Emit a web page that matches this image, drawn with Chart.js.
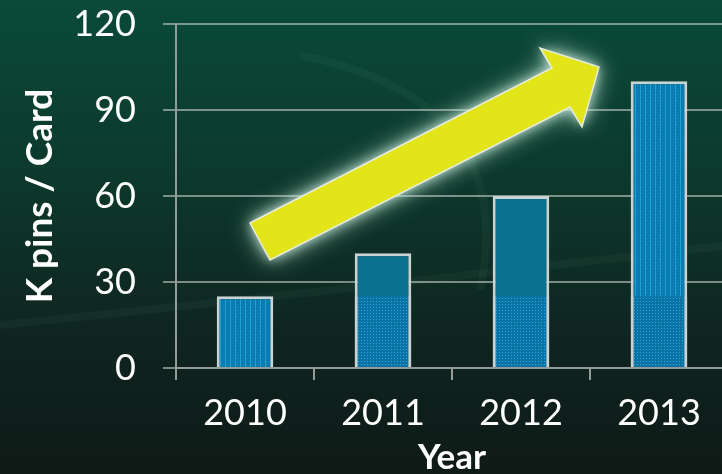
<!DOCTYPE html>
<html><head><meta charset="utf-8">
<script src="https://cdn.jsdelivr.net/npm/chart.js@4/dist/chart.umd.min.js"></script>
<style>
html,body{margin:0;padding:0;overflow:hidden;width:722px;height:474px;}
body{background:linear-gradient(180deg,#0a4a38 0%,#0c3a2d 35%,#0f2520 70%,#0f1a17 100%);}
#wrap{position:absolute;left:0;top:0;width:730px;height:474px;}
</style></head>
<body>
<div id="wrap"><canvas id="c" width="730" height="474"></canvas></div>
<script>
const categories = ["2010","2011","2012","2013"];
const kPinsPerCard = [25, 40, 60, 100];
const level2010 = [null, 25, 25, 25];
const yTicks = [0, 30, 60, 90, 120];

const ctx0 = document.getElementById('c').getContext('2d');
function striped(){
  const p = document.createElement('canvas');
  p.width = 10; p.height = 6;
  const g = p.getContext('2d');
  g.fillStyle = '#0a7aad'; g.fillRect(0,0,10,6);
  g.fillStyle = '#1ea2da';
  g.fillRect(0,0,1,6); g.fillRect(5,0,1,6);
  g.fillStyle = '#148fc6';
  g.fillRect(2,1,1,1); g.fillRect(7,4,1,1); g.fillRect(3,4,1,1); g.fillRect(8,1,1,1);
  return ctx0.createPattern(p,'repeat');
}
function dotted(){
  const p = document.createElement('canvas');
  p.width = 3; p.height = 3;
  const g = p.getContext('2d');
  g.fillStyle = '#0a73a4'; g.fillRect(0,0,3,3);
  g.fillStyle = '#26a8e4'; g.fillRect(1,1,1,1);
  return ctx0.createPattern(p,'repeat');
}
const STRIPED = striped(), DOTTED = dotted(), SOLID = '#0b7191';

const arrowPlugin = {
  id:'arrow',
  afterDraw(chart){
    const ctx = chart.ctx;
    const pts = [[250,223],[552,68],[540,48],[599,67],[582,127],[570,107],[270,260]];
    ctx.save();
    ctx.beginPath();
    pts.forEach((p,i)=> i?ctx.lineTo(p[0],p[1]):ctx.moveTo(p[0],p[1]));
    ctx.closePath();
    ctx.shadowColor = 'rgba(200,235,220,0.85)';
    ctx.shadowBlur = 24;
    ctx.fillStyle = '#e2e619';
    ctx.fill();
    ctx.shadowBlur = 12;
    ctx.fill();
    ctx.shadowBlur = 0;
    ctx.lineWidth = 1.5;
    ctx.strokeStyle = '#e8eadc';
    ctx.stroke();
    ctx.restore();
  }
};

const bgPlugin = {
  id:'bgdeco',
  beforeDraw(chart){
    const ctx = chart.ctx;
    ctx.save();
    ctx.strokeStyle = 'rgba(120,180,160,0.06)';
    ctx.lineWidth = 8;
    ctx.beginPath();
    ctx.moveTo(0,325); ctx.quadraticCurveTo(300,295,730,245);
    ctx.stroke();
    ctx.beginPath();
    ctx.moveTo(300,55); ctx.quadraticCurveTo(520,100,480,290);
    ctx.stroke();
    ctx.restore();
  }
};

const FONT = 'Lato, "Open Sans", sans-serif';
const GRID = 'rgba(190,200,196,0.62)';

new Chart(document.getElementById('c'), {
  type:'bar',
  data:{
    labels: categories,
    datasets:[{
      data: level2010,
      order:0,
      grouped:false,
      backgroundColor: DOTTED,
      borderColor:'#c9d3d3',
      borderWidth:{left:3,right:3,top:0,bottom:0},
      categoryPercentage:1,
      barPercentage:0.41
    },{
      data: kPinsPerCard,
      order:1,
      grouped:false,
      backgroundColor: [STRIPED, SOLID, SOLID, STRIPED],
      borderColor:'#c9d3d3',
      borderWidth:3,
      borderSkipped:'bottom',
      categoryPercentage:1,
      barPercentage:0.41
    }]
  },
  options:{
    responsive:false,
    animation:false,
    layout:{padding:{top:24,right:2,left:0,bottom:0}},
    plugins:{legend:{display:false},tooltip:{enabled:false}},
    scales:{
      y:{
        z:1,
        min:0,max:120,
        afterBuildTicks(axis){ axis.ticks = yTicks.map(v=>({value:v})); },
        afterFit(axis){ axis.width = 176; axis.paddingTop = 0; axis.paddingBottom = 0; },
        ticks:{color:'#ffffff',font:{family:FONT,size:36},padding:27},
        grid:{color:GRID,lineWidth:2,tickLength:13,drawTicks:true},
        border:{color:'#939c98',width:2},
        title:{display:true,text:'K pins / Card',color:'#ffffff',font:{family:FONT,size:37,weight:'bold'},padding:{top:18,bottom:0}}
      },
      x:{
        afterFit(axis){ axis.height = 106; axis.paddingLeft = 0; axis.paddingRight = 0; },
        ticks:{color:'#ffffff',font:{family:FONT,size:36},padding:12},
        grid:{drawOnChartArea:false,color:'#939c98',lineWidth:2,tickLength:12,offset:true},
        border:{color:'#939c98',width:2},
        title:{display:true,text:'Year',color:'#ffffff',font:{family:FONT,size:35,weight:'bold'},padding:{top:0,bottom:-5}}
      }
    }
  },
  plugins:[bgPlugin, arrowPlugin]
});
</script>
</body></html>
